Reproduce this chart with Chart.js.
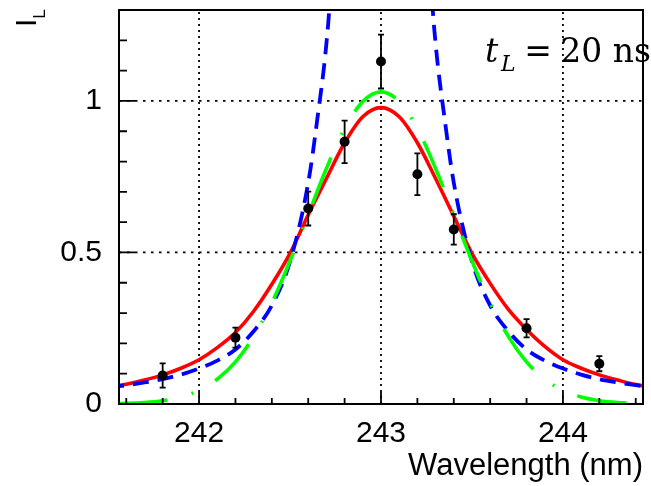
<!DOCTYPE html>
<html><head><meta charset="utf-8">
<script src="https://cdn.jsdelivr.net/npm/chart.js@4"></script>
<style>html,body{margin:0;padding:0;background:#fff;}canvas{display:block;}</style>
</head><body>
<canvas id="c" width="651" height="486"></canvas>
<script>
// ---- data ----
const wavelength = [241.5,241.6,241.7,241.8,241.9,242.0,242.1,242.2,242.3,242.4,242.5,242.6,242.7,242.8,242.9,243.0,
                    243.1,243.2,243.3,243.4,243.5,243.6,243.7,243.8,243.9,244.0,244.1,244.2,244.3,244.4,244.5];
const redFit   = [0.055,0.065,0.079,0.096,0.118,0.146,0.186,0.236,0.306,0.395,0.497,0.624,0.744,0.862,0.948,0.978,
                  0.948,0.862,0.744,0.620,0.497,0.398,0.312,0.246,0.190,0.146,0.118,0.096,0.079,0.064,0.055];
const greenFit = [0.001,0.002,0.005,0.011,0.023,0.045,0.082,0.139,0.223,0.334,0.472,0.625,0.777,0.909,0.998,1.030,
                  0.998,0.909,0.777,0.625,0.472,0.334,0.223,0.139,0.082,0.045,0.023,0.011,0.005,0.002,0.001];
const blueWavelength = [241.5,241.6,241.7,241.8,241.9,242.0,242.1,242.2,242.3,242.4,242.5,242.6,242.65,242.7,242.72,242.75,242.8,
                        243.0,
                        243.2,243.25,243.28,243.3,243.35,243.4,243.5,243.6,243.7,243.8,243.9,244.0,244.1,244.2,244.3,244.4,244.5];
const blueFit = [0.055,0.062,0.071,0.082,0.097,0.117,0.143,0.180,0.240,0.325,0.470,0.730,0.940,1.190,1.350,1.850,2.900,
                 null,
                 2.900,1.850,1.350,1.190,0.940,0.730,0.470,0.325,0.240,0.180,0.143,0.117,0.097,0.082,0.071,0.062,0.055];
const pointWavelength = [241.8,242.2,242.6,242.8,243.0,243.2,243.4,243.8,244.2];
const pointValue      = [0.094,0.219,0.645,0.865,1.130,0.758,0.576,0.250,0.133];
const pointError      = [0.040,0.033,0.056,0.070,0.089,0.069,0.050,0.030,0.025];
const xMajorTicks = [242,243,244];
const xMinorTicks = [241.6,241.8,242.2,242.4,242.6,242.8,243.2,243.4,243.6,243.8,244.2,244.4];
const yMajorTicks = [0,0.5,1];
const yTickLabels = ['0','0.5','1'];
const yMinorTicks = [0.1,0.2,0.3,0.4,0.6,0.7,0.8,0.9,1.1,1.2];
const xTitle = 'Wavelength (nm)';
const yTitleMain = 'I', yTitleSub = 'L';
const noteVar = 't', noteSub = 'L', noteEq = '=', noteVal = '20 ns';

const SANS = '"Liberation Sans", Arial, sans-serif';
const SERIF = '"DejaVu Serif", serif';

const decor = {
  id: 'decor',
  beforeDatasetsDraw(chart) {
    const {ctx, chartArea: a, scales: {x, y}} = chart;
    ctx.save();
    ctx.strokeStyle = '#000';
    ctx.lineWidth = 1.8;
    ctx.setLineDash([2, 4]);
    xMajorTicks.forEach(v => {
      const px = x.getPixelForValue(v);
      ctx.beginPath(); ctx.moveTo(px, a.bottom); ctx.lineTo(px, a.top); ctx.stroke();
    });
    ctx.setLineDash([2.5, 5.5]);
    yMajorTicks.filter(v => v > 0).forEach(v => {
      const py = y.getPixelForValue(v);
      ctx.beginPath(); ctx.moveTo(a.left, py); ctx.lineTo(a.right, py); ctx.stroke();
    });
    ctx.restore();
  },
  beforeDatasetDraw(chart, args) {
    if (args.index !== 0) return;
    const {ctx, scales: {x, y}} = chart;
    ctx.save();
    ctx.strokeStyle = '#000';
    ctx.lineWidth = 1.8;
    pointWavelength.forEach((w, i) => {
      const px = x.getPixelForValue(w);
      const top = y.getPixelForValue(pointValue[i] + pointError[i]);
      const bot = y.getPixelForValue(pointValue[i] - pointError[i]);
      ctx.beginPath();
      ctx.moveTo(px, top); ctx.lineTo(px, bot);
      ctx.moveTo(px - 3, top); ctx.lineTo(px + 3, top);
      ctx.moveTo(px - 3, bot); ctx.lineTo(px + 3, bot);
      ctx.stroke();
    });
    ctx.restore();
  },
  afterDatasetsDraw(chart) {
    const {ctx, chartArea: a, scales: {x, y}} = chart;
    ctx.save();
    ctx.strokeStyle = '#000';
    ctx.lineWidth = 2;
    ctx.strokeRect(a.left, a.top, a.right - a.left, a.bottom - a.top);
    ctx.lineWidth = 1.8;
    ctx.beginPath();
    xMajorTicks.forEach(v => { const px = x.getPixelForValue(v); ctx.moveTo(px, a.bottom); ctx.lineTo(px, a.bottom - 12); });
    xMinorTicks.forEach(v => { const px = x.getPixelForValue(v); ctx.moveTo(px, a.bottom); ctx.lineTo(px, a.bottom - 6); });
    yMajorTicks.forEach(v => { const py = y.getPixelForValue(v); ctx.moveTo(a.left, py); ctx.lineTo(a.left + 16, py); });
    yMinorTicks.forEach(v => { const py = y.getPixelForValue(v); ctx.moveTo(a.left, py); ctx.lineTo(a.left + 8, py); });
    ctx.stroke();

    // y-axis title (rotated, at top of axis)
    ctx.fillStyle = '#000';
    ctx.save();
    ctx.translate(35.5, 27);
    ctx.rotate(-Math.PI / 2);
    ctx.textAlign = 'left'; ctx.textBaseline = 'alphabetic';
    ctx.font = '30px ' + SANS;
    ctx.fillText(yTitleMain, 0, 0);
    const wI = ctx.measureText(yTitleMain).width;
    ctx.font = '17px ' + SANS;
    ctx.fillText(yTitleSub, wI, 9);
    ctx.restore();

    // annotation t_L = 20 ns
    ctx.textBaseline = 'alphabetic';
    ctx.textAlign = 'left';
    ctx.font = 'italic 33px ' + SERIF;
    ctx.fillText(noteVar, 485, 62);
    ctx.font = 'italic 22px ' + SERIF;
    ctx.fillText(noteSub, 501, 71);
    ctx.font = '33px ' + SERIF;
    ctx.textAlign = 'center';
    ctx.fillText(noteEq, 538, 62);
    ctx.textAlign = 'right';
    ctx.fillText(noteVal, 651, 62);
    ctx.restore();
  }
};

const toXY = (xs, ys) => xs.map((v, i) => ({x: v, y: ys[i]}));

new Chart(document.getElementById('c'), {
  type: 'scatter',
  data: {
    datasets: [
      { label: 'data', data: toXY(pointWavelength, pointValue), pointRadius: 5, pointHoverRadius: 5,
        backgroundColor: '#000', borderColor: '#000', borderWidth: 0, showLine: false },
      { label: 'gauss', data: toXY(wavelength, greenFit), showLine: true, pointRadius: 0, borderColor: '#00ff00',
        borderWidth: 3.6, borderDash: [50, 25, 2, 25], borderDashOffset: 92.5,
        cubicInterpolationMode: 'monotone', fill: false },
      { label: 'lorentz', data: toXY(blueWavelength, blueFit), showLine: true, pointRadius: 0, borderColor: '#0000ff',
        borderWidth: 3.8, borderDash: [16, 9], cubicInterpolationMode: 'monotone', fill: false, spanGaps: false },
      { label: 'voigt', data: toXY(wavelength, redFit), showLine: true, pointRadius: 0, borderColor: '#ff0000',
        borderWidth: 3.6, cubicInterpolationMode: 'monotone', fill: false }
    ]
  },
  options: {
    responsive: false,
    animation: false,
    devicePixelRatio: 1,
    layout: { padding: { top: 10, right: 8, left: 0, bottom: 0 } },
    elements: { line: { capBezierPoints: false } },
    plugins: { legend: { display: false }, tooltip: { enabled: false } },
    scales: {
      x: {
        type: 'linear', min: 241.56, max: 244.44,
        grid: { display: false }, border: { display: false },
        afterBuildTicks: s => { s.ticks = xMajorTicks.map(v => ({value: v})); },
        afterFit: s => { s.height = 82; s.paddingLeft = 0; s.paddingRight = 0; s.paddingTop = 0; s.paddingBottom = 0; },
        ticks: { color: '#000', font: { family: SANS, size: 30 }, padding: 4, maxRotation: 0,
                 callback: v => String(v) },
        title: { display: true, text: xTitle, align: 'end', color: '#000',
                 font: { family: SANS, size: 31 }, padding: { top: 0, bottom: 1 } }
      },
      y: {
        type: 'linear', min: 0, max: 1.3,
        grid: { display: false }, border: { display: false },
        afterBuildTicks: s => { s.ticks = yMajorTicks.map(v => ({value: v})); },
        afterFit: s => { s.width = 119; s.paddingTop = 0; s.paddingBottom = 0; s.paddingLeft = 0; s.paddingRight = 0; },
        ticks: { color: '#000', font: { family: SANS, size: 30 }, padding: 9,
                 callback: (v) => yTickLabels[yMajorTicks.indexOf(v)] }
      }
    }
  },
  plugins: [decor]
});
</script>
</body></html>
